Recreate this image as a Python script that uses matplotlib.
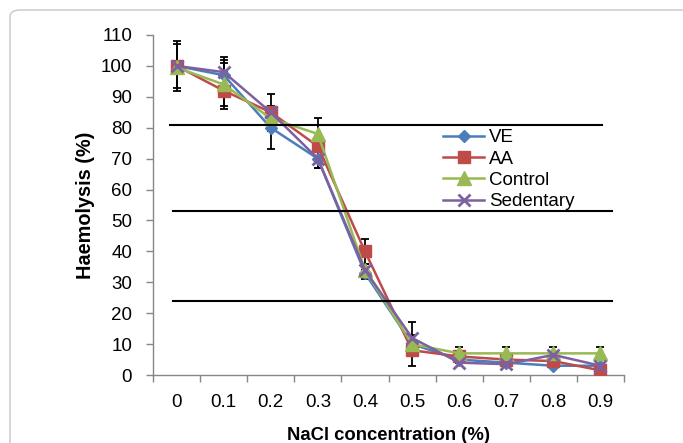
import matplotlib
matplotlib.use("Agg")
import matplotlib.pyplot as plt
from matplotlib.patches import FancyBboxPatch

plt.rcParams["font.family"] = ["Liberation Sans", "DejaVu Sans"]

# ---- data ----
nacl = ["0", "0.1", "0.2", "0.3", "0.4", "0.5", "0.6", "0.7", "0.8", "0.9"]
ve = [100, 97, 80, 70, 33, 10, 5, 4, 3, 3]
aa = [100, 92, 85, 74, 40, 8, 6, 5, 4.5, 1.5]
control = [99.5, 94, 83, 78, 34, 10, 7, 7, 7, 7]
sedentary = [100, 98, 85, 70, 34, 12, 4, 3.5, 6.5, 3]

ve_err = [8, 5, 7, 3, 2, 0, 0, 0, 0, 0]
aa_err = [7, 6, 6, 0, 4, 5, 0, 0, 0, 0]
control_err = [0, 7, 0, 5, 0, 0, 2, 2, 2, 2]
sedentary_err = [0, 5, 0, 3, 2, 5, 0, 0, 0, 0]

ref_levels = [81, 53, 24]
ref_start = [-0.14, -0.08, -0.08]
ref_end = [9.03, 9.25, 9.25]

series = [
    ("VE", ve, ve_err, "#4A7EBB", "D", 6.5, 1.0),
    ("AA", aa, aa_err, "#BE4B48", "s", 8.5, 1.0),
    ("Control", control, control_err, "#98B954", "^", 9.5, 1.0),
    ("Sedentary", sedentary, sedentary_err, "#7D60A0", "x", 8.5, 2.0),
]

fig = plt.figure(figsize=(6.83, 4.43), dpi=100)
frame = FancyBboxPatch((10 / 683, -0.1), 1.2, 1.1 - 10 / 443,
                       boxstyle="round,pad=0,rounding_size=0.015",
                       transform=fig.transFigure, facecolor="none",
                       edgecolor="#c6c6c6", linewidth=1.0, clip_on=False)
fig.patches.append(frame)

ax = fig.add_axes([153 / 683, 1 - 375 / 443, 471 / 683, 340 / 443])
x = list(range(len(nacl)))

for name, vals, err, color, mk, ms, mew in series:
    ax.errorbar(x, vals, yerr=err, fmt="none", ecolor="black",
                elinewidth=1.3, capsize=3.2, capthick=1.3, zorder=2)

for name, vals, err, color, mk, ms, mew in series:
    ax.plot(x, vals, color=color, marker=mk, markersize=ms,
            markeredgewidth=mew, markeredgecolor=color,
            linewidth=1.8, label=name, zorder=3)

for lev, x0, x1 in zip(ref_levels, ref_start, ref_end):
    ax.plot([x0, x1], [lev, lev], color="black", linewidth=1.5, zorder=4)

ax.set_xlim(-0.5, len(nacl) - 0.5)
ax.set_ylim(0, 110)
ax.set_yticks(range(0, 111, 10))
ax.set_xticks([i - 0.5 for i in range(len(nacl) + 1)])
ax.set_xticklabels([])
ax.set_xticks(x, minor=True)
ax.set_xticklabels(nacl, minor=True)
ax.tick_params(axis="x", which="major", length=5, color="#868686", width=1)
ax.tick_params(axis="x", which="minor", length=0, pad=14, labelsize=13.5)
ax.tick_params(axis="y", length=5, color="#868686", width=1, pad=10,
               labelsize=13.5)

for side in ["top", "right"]:
    ax.spines[side].set_visible(False)
for side in ["left", "bottom"]:
    ax.spines[side].set_color("#868686")
    ax.spines[side].set_linewidth(1)

ax.set_xlabel("NaCl concentration (%)", fontsize=13.3, fontweight="bold",
              labelpad=11)
ax.set_ylabel("Haemolysis (%)", fontsize=14.3, fontweight="bold", labelpad=4)

leg = ax.legend(loc="upper left", bbox_to_anchor=(0.6, 0.745), frameon=False,
                fontsize=13.5, handlelength=2.2, handletextpad=0.25,
                labelspacing=0.22, borderaxespad=0)
leg.set_zorder(5)

fig.savefig("out.png", dpi=100)
